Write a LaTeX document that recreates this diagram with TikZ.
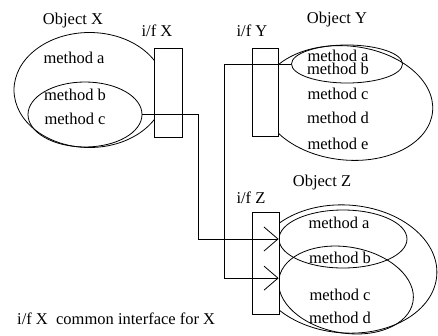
\documentclass[tikz,border=0pt]{standalone}
\usepackage{fontspec}
\setmainfont{Liberation Serif}
\usetikzlibrary{arrows.meta,shapes.geometric}
\begin{document}
\begin{tikzpicture}[x=1pt,y=-1pt,
  every node/.style={font=\fontsize{16.5}{18}\selectfont, inner sep=0pt},
  lbl/.style={anchor=base},
  oval/.style={draw, ellipse, line width=0.8pt},
  iface/.style={draw, fill=white, line width=0.8pt},
  wire/.style={line width=0.7pt},
  tip/.style={-{Straight Barb[length=14pt,width=24pt,line width=0.8pt]}}
]
\useasboundingbox (0,0) rectangle (438,335);

% object X and its method groups
\node[oval, minimum width=151pt, minimum height=115pt] (ox) at (89.5,90) {};
\node[oval, minimum width=114pt, minimum height=65pt] (ix) at (85,114.5) {};

% object Y
\node[oval, minimum width=172pt, minimum height=114pt, rotate=-6] (oy) at (347,103) {};
\node[oval, minimum width=111pt, minimum height=38pt] (iy) at (347,64) {};

% object Z
\node[oval, minimum width=182pt, minimum height=128pt, rotate=-4] (oz) at (346,269) {};
\node[oval, minimum width=128pt, minimum height=58pt] (uz) at (343,239) {};
\node[oval, minimum width=136pt, minimum height=86pt, rotate=-10] (lz) at (346,290) {};

% interfaces
\node[iface, minimum width=28pt, minimum height=89pt] (fx) at (168,92.5) {};
\node[iface, minimum width=26pt, minimum height=88pt] (fy) at (265,92) {};
\node[iface, minimum width=27pt, minimum height=102pt] (fz) at (265.5,263) {};

% connections into interface Z
\coordinate (kx) at (198,112);
\coordinate (ky) at (224,62);
\draw[wire, tip] (ix.east) -- (ix.east -| kx) |- (uz.west);
\draw[wire, tip] (iy.west) -- (iy.west -| ky) |- (lz.west);

% labels
\node[lbl] (tox) at (73,24) {Object X};
\node[lbl] (tfx) at (157,36) {i/f X};
\node[lbl] (toy) at (337,23) {Object Y};
\node[lbl] (tfy) at (252,36) {i/f Y};
\node[lbl] (toz) at (322,186) {Object Z};
\node[lbl] (tfz) at (251,203) {i/f Z};

\node[lbl] (xa) at (74,63) {method a};
\node[lbl] (xb) at (75,100) {method b};
\node[lbl] (xc) at (75,124) {method c};

% the two tightly stacked methods share one label
\node[align=center, font=\fontsize{16.5}{11.5}\selectfont] (yab) at (338,62.2)
  {method a\\method b};
\node[lbl] (yc) at (338,99) {method c};
\node[lbl] (yd) at (338,123) {method d};
\node[lbl] (ye) at (338,149) {method e};

\node[lbl] (za) at (339,228) {method a};
\node[lbl] (zb) at (340,263) {method b};
\node[lbl] (zc) at (340,300) {method c};
\node[lbl] (zd) at (340,323) {method d};

\node[anchor=base west] (key) at (17,324) {i/f X\hspace{0.5em}common interface for X};
\end{tikzpicture}
\end{document}
